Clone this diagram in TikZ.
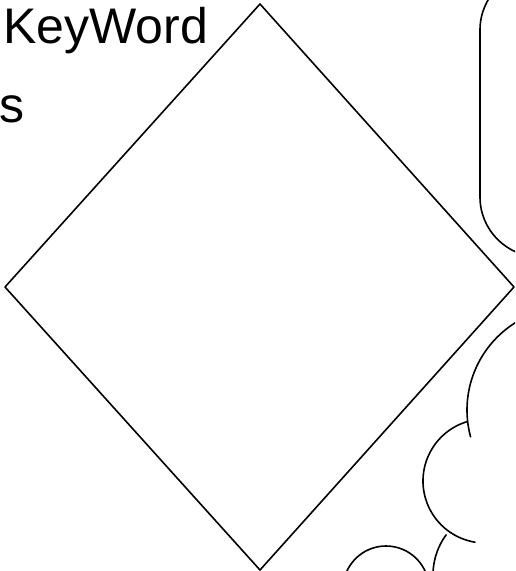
\documentclass[tikz,border=0pt]{standalone}
\usepackage{fontspec}
\setmainfont{Liberation Sans}
\tikzset{
  edge/.style={line width=1.6pt},
  label text/.style={anchor=base west,inner sep=0pt,font=\fontsize{50}{60}\selectfont}
}
\begin{document}
\begin{tikzpicture}[x=1pt,y=-1pt,line cap=round,line join=round]

% frame of the cut-out view
\useasboundingbox (0,0) rectangle (515,571);
\clip (0,0) rectangle (515,571);

% diamond corners
\coordinate (T) at (260,4);
\coordinate (L) at (5,287);
\coordinate (Bt) at (260,570);
\coordinate (R) at (514,287);
\draw[edge] (T)--(L)--(Bt)--(R)--cycle;

% note box (runs off the frame)
\draw[edge,rounded corners=60] (480,-30) rectangle (640,257);

% cloud bumps (centres of the arcs)
\coordinate (c1) at (570,410);
\coordinate (c2) at (485,481);
\coordinate (c3) at (501,575);
\coordinate (c4) at (386,589);
\draw[edge] (c1) ++(245:103) arc[start angle=245,end angle=164.9,radius=103];
\draw[edge] (c2) ++(253:62) arc[start angle=253,end angle=99.3,radius=62];
\draw[edge] (c3) ++(216.2:68) arc[start angle=216.2,end angle=175,radius=68];
\draw[edge] (c4) circle (43);

% labels
\node[label text] (kw) at (3,43) {KeyWord};
\node[label text] (s) at (-1,122) {s};

\end{tikzpicture}
\end{document}
